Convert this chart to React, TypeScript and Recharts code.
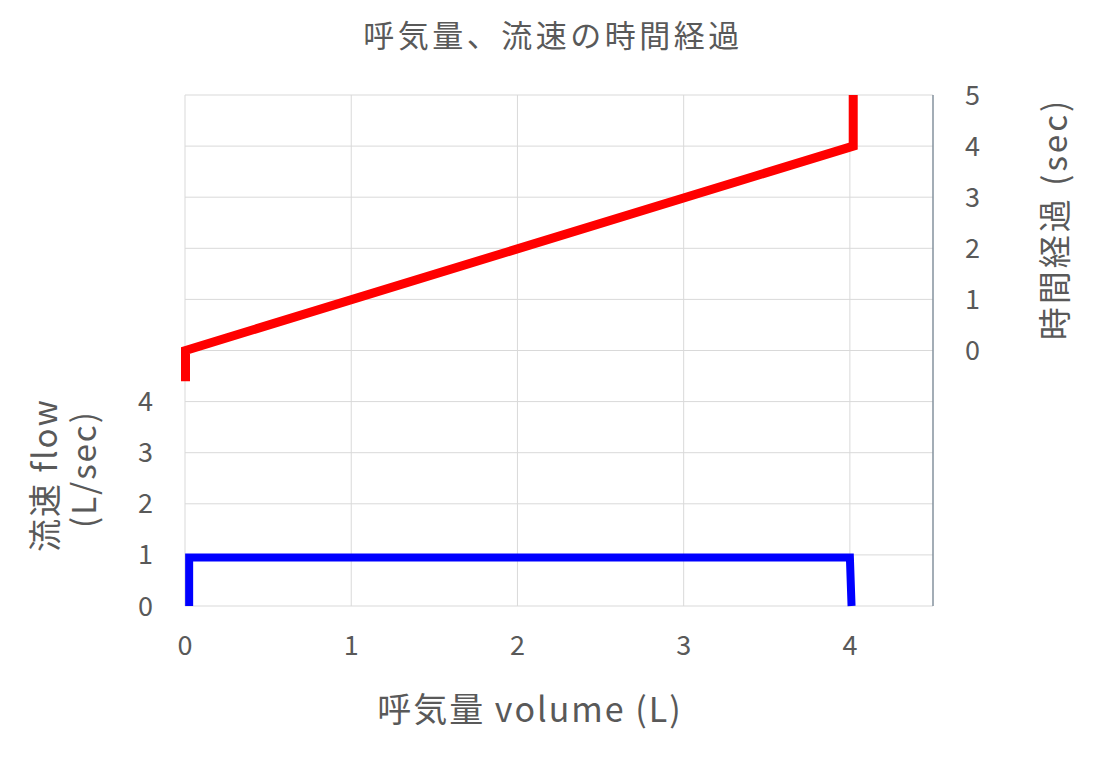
import { CartesianGrid, Label, Line, LineChart, XAxis, YAxis } from 'recharts';

const volumeTicks = [0, 1, 2, 3, 4];
const flowTicks = [0, 1, 2, 3, 4, 5, 6, 7, 8, 9, 10];
const timeTicks = [-5, -4, -3, -2, -1, 0, 1, 2, 3, 4, 5];

// flow (L/sec) against volume
const flowVolume = [0.025, 0.025, 4.0, 4.01];
const flowValues = [0, 0.95, 0.95, 0];

// elapsed time (sec) against volume
const timeVolume = [0.003, 0.003, 4.02, 4.02];
const timeValues = [-0.6, 0, 4, 5];

const flowData = flowVolume.map((v, i) => ({ volume: v, flow: flowValues[i] }));
const timeData = timeVolume.map((v, i) => ({ volume: v, time: timeValues[i] }));

const FONT = "'Noto Sans CJK JP', sans-serif";
const TEXT = '#595959';

const tickStyle = { fill: TEXT, fontSize: 27, fontFamily: FONT };

const XTitle = ({ viewBox }: any) => (
  <text
    x={viewBox.x + viewBox.width / 2 - 29}
    y={viewBox.y + 101}
    textAnchor="middle"
    dominantBaseline="central"
    fill={TEXT}
    fontSize={34}
    letterSpacing={2}
    fontFamily={FONT}
  >
    呼気量 volume (L)
  </text>
);

const FlowTitle = ({ viewBox }: any) => {
  const x1 = viewBox.x + 35;
  const x2 = viewBox.x + 74;
  const y = viewBox.y + 380;
  return (
    <g fill={TEXT} fontSize={33} fontFamily={FONT} letterSpacing={2}>
      <text x={x1} y={y} textAnchor="middle" dominantBaseline="central" transform={`rotate(-90 ${x1} ${y})`}>
        流速 flow
      </text>
      <text x={x2} y={y - 6} textAnchor="middle" dominantBaseline="central" transform={`rotate(-90 ${x2} ${y - 6})`}>
        (L/sec)
      </text>
    </g>
  );
};

const TimeTitle = ({ viewBox }: any) => {
  const x = viewBox.x + 120;
  const y = viewBox.y + 124;
  return (
    <text
      x={x}
      y={y}
      textAnchor="middle"
      dominantBaseline="central"
      transform={`rotate(-90 ${x} ${y})`}
      fill={TEXT}
      fontSize={33}
      letterSpacing={3}
      fontFamily={FONT}
    >
      時間経過 (sec)
    </text>
  );
};

export default function App() {
  return (
    <div style={{ position: 'relative', width: 1084, height: 741, background: '#fff' }}>
      <div
        style={{
          position: 'absolute',
          top: 3,
          left: 0,
          width: 1084,
          textAlign: 'center',
          color: TEXT,
          fontSize: 31,
          letterSpacing: 3.5,
          fontFamily: FONT,
          paddingLeft: 3
        }}
      >
        呼気量、流速の時間経過
      </div>
      <LineChart width={1084} height={741} margin={{ top: 87, right: 0, bottom: 0, left: 0 }}>
        <CartesianGrid stroke="#d9d9d9" strokeWidth={1} yAxisId="flow" />
        <XAxis
          type="number"
          dataKey="volume"
          domain={[0, 4.5]}
          ticks={volumeTicks}
          height={143}
          tickLine={false}
          tickSize={0}
          tickMargin={30}
          axisLine={false}
          tick={tickStyle}
        >
          <Label content={<XTitle />} />
        </XAxis>
        <YAxis
          yAxisId="flow"
          type="number"
          domain={[0, 10]}
          ticks={flowTicks}
          width={177}
          tickLine={false}
          tickSize={0}
          tickMargin={32}
          axisLine={false}
          tick={tickStyle}
          tickFormatter={(v: number) => (v <= 4 ? String(v) : '')}
        >
          <Label content={<FlowTitle />} />
        </YAxis>
        <YAxis
          yAxisId="time"
          orientation="right"
          type="number"
          domain={[-5, 5]}
          ticks={timeTicks}
          width={159}
          tickLine={false}
          tickSize={0}
          tickMargin={32}
          axisLine={{ stroke: '#5b6f80' }}
          tick={{ ...tickStyle, textAnchor: 'start' }}
          tickFormatter={(v: number) => (v >= 0 ? String(v) : '')}
        >
          <Label content={<TimeTitle />} />
        </YAxis>
        <Line
          yAxisId="time"
          data={timeData}
          dataKey="time"
          type="linear"
          stroke="#ff0000"
          strokeWidth={9}
          strokeLinejoin="miter"
          dot={false}
          activeDot={false}
          isAnimationActive={false}
        />
        <Line
          yAxisId="flow"
          data={flowData}
          dataKey="flow"
          type="linear"
          stroke="#0000ff"
          strokeWidth={8}
          strokeLinejoin="miter"
          dot={false}
          activeDot={false}
          isAnimationActive={false}
        />
      </LineChart>
    </div>
  );
}
